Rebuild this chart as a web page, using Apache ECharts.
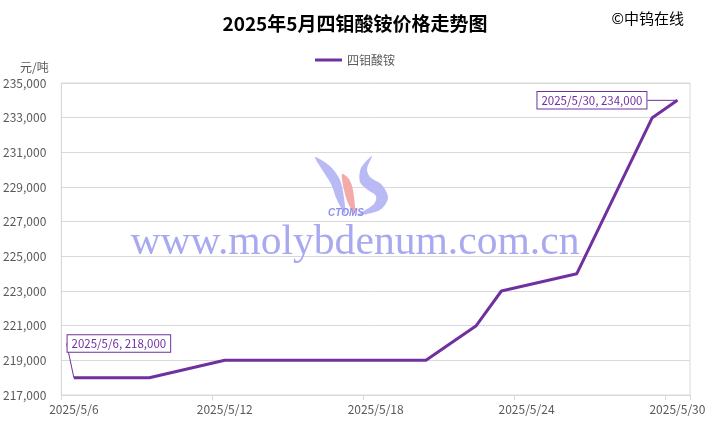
<!DOCTYPE html>
<html>
<head>
<meta charset="utf-8">
<script src="https://cdn.jsdelivr.net/npm/echarts@6/dist/echarts.min.js"></script>
<style>html,body{margin:0;padding:0;background:#fff;}#c{width:710px;height:428px;}</style>
</head>
<body>
<div id="c"></div>
<script>
// ---- data ----
var dates = ['2025/5/6','2025/5/7','2025/5/8','2025/5/9','2025/5/10','2025/5/11','2025/5/12','2025/5/13','2025/5/14','2025/5/15','2025/5/16','2025/5/17','2025/5/18','2025/5/19','2025/5/20','2025/5/21','2025/5/22','2025/5/23','2025/5/24','2025/5/25','2025/5/26','2025/5/27','2025/5/28','2025/5/29','2025/5/30'];
var prices = [218000,null,null,218000,null,null,219000,null,null,null,null,null,null,null,219000,null,221000,223000,null,null,224000,null,null,233000,234000];
var seriesName = '四钼酸铵';
var titleText = '2025年5月四钼酸铵价格走势图';

var purple = '#7030A0';
var gray = '#595959';
var font = '"Noto Sans CJK SC", "Noto Sans", sans-serif';
var lastIdx = prices.length - 1;

var data = prices.map(function(v, i){
  var item = {value: v};
  if (i === 0) {
    item.label = {show: true, position: 'top'};
  }
  if (i === lastIdx) {
    item.label = {show: true, position: 'left'};
  }
  return item;
});

var chart = echarts.init(document.getElementById('c'), null, {renderer: 'canvas'});
chart.setOption({
  animation: false,
  backgroundColor: '#fff',
  textStyle: {fontFamily: font},
  title: [{
    text: titleText, left: 'center', top: 9,
    textStyle: {fontSize: 19, fontWeight: 'bold', color: '#000', fontFamily: font}
  }, {
    text: '©中钨在线', right: 21, top: 6,
    textStyle: {fontSize: 15, fontWeight: 'normal', color: '#000', fontFamily: font}
  }, {
    text: '元/吨', left: 15, top: 56,
    textStyle: {fontSize: 12, fontWeight: 'normal', color: gray, fontFamily: font}
  }],
  legend: {
    data: [seriesName], top: 49, left: 'center',
    icon: 'rect', itemWidth: 27, itemHeight: 3, itemGap: 4,
    textStyle: {fontSize: 12, color: gray, fontFamily: font}
  },
  grid: {left: 60, right: 20, top: 83, bottom: 33, show: true, borderColor: '#d9d9d9', borderWidth: 1},
  graphic: [
    {type: 'polygon', z: 1, shape: {smooth: 0.3, points: [[315,157],[330,166],[340,180],[344,198],[345,214],[337,200],[331,184],[321,168]]}, style: {fill: '#b9b9f4'}},
    {type: 'polygon', z: 1, shape: {smooth: 0.3, points: [[342,174],[349,179],[353,190],[355,214],[348,203],[344,190]]}, style: {fill: '#f5aaaa'}},
    {type: 'polygon', z: 1, shape: {smooth: 0.3, points: [[372,156],[367,169],[370,177],[382,185],[388,198],[380,210],[358,215],[374,204],[376,196],[368,190],[360,182],[361,168]]}, style: {fill: '#b9b9f4'}},
    {type: 'text', z: 1, left: 328, top: 208, style: {text: 'CTOMS', font: 'italic bold 10px Arial, sans-serif', fill: '#8f8fee'}},
    {type: 'text', z: 1, left: 'center', top: 222, style: {text: 'www.molybdenum.com.cn', font: '41.6px "Liberation Serif", "DejaVu Serif", serif', fill: '#a9a9f0'}}
  ],
  xAxis: {
    type: 'category', data: dates, boundaryGap: true,
    axisLine: {lineStyle: {color: '#d9d9d9'}},
    axisTick: {show: true, interval: 5, length: 5, lineStyle: {color: '#d9d9d9'}},
    axisLabel: {interval: 5, color: gray, fontSize: 12, margin: 8, fontFamily: font},
    splitLine: {show: false}
  },
  yAxis: {
    type: 'value', min: 217000, max: 235000, interval: 2000,
    axisLine: {show: true, lineStyle: {color: '#d9d9d9'}},
    axisTick: {show: false},
    axisLabel: {color: gray, fontSize: 12, margin: 15, fontFamily: font,
      formatter: function(v){ return v.toLocaleString('en-US'); }},
    splitLine: {lineStyle: {color: '#d9d9d9'}}
  },
  series: [{
    name: seriesName, type: 'line', data: data, connectNulls: true,
    symbol: 'circle', symbolSize: 0.01, showSymbol: true,
    z: 5,
    lineStyle: {color: purple, width: 3},
    itemStyle: {color: purple},
    label: {
      show: false, color: purple, fontSize: 11.5, fontFamily: font,
      backgroundColor: '#fff', borderColor: purple, borderWidth: 1, padding: [3, 4, 2, 4],
      formatter: function(p){ return p.name + ', ' + p.value.toLocaleString('en-US'); }
    },
    labelLayout: function(p){
      if (p.dataIndex === 0) return {dx: 45, dy: -21};
      if (p.dataIndex === lastIdx) return {dx: -26, dy: 0};
      return {};
    },
    labelLine: {show: true, lineStyle: {color: purple, width: 1}}
  }]
});
</script>
</body>
</html>
